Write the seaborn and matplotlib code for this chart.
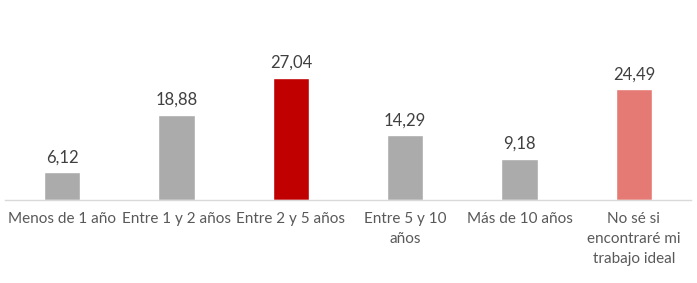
import matplotlib
matplotlib.use("Agg")
import matplotlib.pyplot as plt
import seaborn as sns
import pandas as pd

categories = ["Menos de 1 año", "Entre 1 y 2 años", "Entre 2 y 5 años",
              "Entre 5 y 10\naños", "Más de 10 años",
              "No sé si\nencontraré mi\ntrabajo ideal"]
values = [6.12, 18.88, 27.04, 14.29, 9.18, 24.49]
value_labels = ["6,12", "18,88", "27,04", "14,29", "9,18", "24,49"]
colors = ["#ABABAB", "#ABABAB", "#C00000", "#ABABAB", "#ABABAB", "#E57A74"]

sns.set_theme(style="white")
plt.rcParams['font.family'] = ['Lato', 'DejaVu Sans']

df = pd.DataFrame({"cat": categories, "val": values})

fig = plt.figure(figsize=(6.97, 2.83), dpi=100)
ax = fig.add_axes([5/697, 1 - 200/283, 686/697, 200/283])
sns.barplot(data=df, x="cat", y="val", hue="cat", palette=colors,
            legend=False, width=0.32, ax=ax, saturation=1)
ax.set_ylim(0, 44.3)
ax.set_xlim(-0.5, 5.5)
for s in ["top", "right", "left"]:
    ax.spines[s].set_visible(False)
ax.spines["bottom"].set_color("#D9D9D9")
ax.spines["bottom"].set_linewidth(1)
ax.set_yticks([])
ax.set_xlabel("")
ax.set_ylabel("")
ax.tick_params(axis="x", length=0, pad=8.5, labelsize=11, colors="#595959")
for lbl in ax.get_xticklabels():
    lbl.set_linespacing(1.55)
for i, (v, t) in enumerate(zip(values, value_labels)):
    ax.annotate(t, (i, v), xytext=(0, 5), textcoords="offset points",
                ha="center", va="bottom", fontsize=12, color="#404040")
fig.savefig("out.png", dpi=100)
